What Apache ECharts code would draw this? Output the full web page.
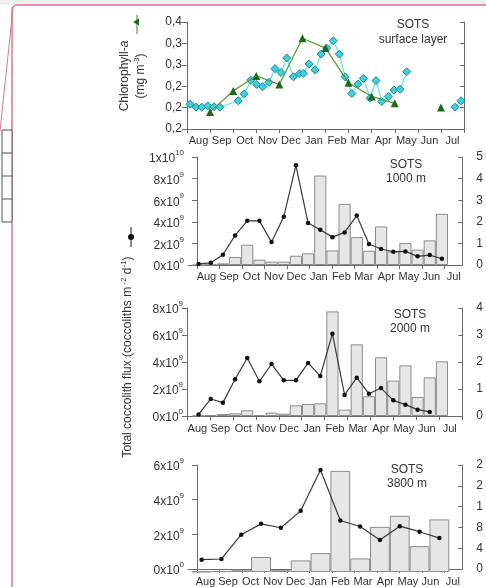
<!DOCTYPE html>
<html><head><meta charset="utf-8">
<script src="https://cdn.jsdelivr.net/npm/echarts@6/dist/echarts.min.js"></script>
<style>html,body{margin:0;padding:0;background:#fff;overflow:hidden}#c{width:486px;height:587px}</style>
</head><body><div id="c"></div>
<script>
// ---------------- DATA ----------------
const months = ["Aug","Sep","Oct","Nov","Dec","Jan","Feb","Mar","Apr","May","Jun","Jul"];

// Panel 1: chlorophyll-a, x in months since 1 Aug
const chlTriMonth = [1.0, 2.0, 3.0, 4.0, 5.0, 6.0, 7.0, 8.0, 9.0, 10.0, 11.0];
const chlTriValue = [0.190, 0.239, 0.274, 0.254, 0.362, 0.339, 0.258, 0.226, 0.210, null, 0.200];
const chlDiaMonth = [0.13,0.39,0.64,0.90,1.17,1.43,2.22,2.48,2.76,3.02,3.28,3.55,3.81,4.07,4.32,4.61,4.87,5.04,5.29,5.55,5.81,6.05,6.34,6.60,6.85,7.14,7.40,7.64,7.93,8.19,8.44,8.72,8.97,9.23,9.52,10.5,11.61,11.87];
const chlDiaValue = [0.208,0.201,0.201,0.204,0.202,0.201,0.216,0.232,0.264,0.254,0.249,0.259,0.291,0.282,0.316,0.272,0.279,0.280,0.302,0.288,0.325,0.339,0.356,0.325,0.272,0.233,0.255,0.268,0.222,0.263,0.214,0.226,0.241,0.243,0.284,null,0.201,0.216];
const chlTickLabels = ["0,2","0,2","0,2","0,3","0,3","0,4"];

// Panels 2-4: trap samples (x1e9 coccoliths m-2 d-1)
const samples21 = ["1","2","3","4","5","6","7","8","9","10","11","12","13","14","15","16","17","18","19","20","21"];
const samples13 = ["1","2","3","4","5","6","7","8","9","10","11","12","13"];

const flux1000Line = [0.10,0.20,0.95,2.74,4.09,4.09,2.12,4.46,9.23,3.88,3.26,2.58,3.02,4.58,1.94,1.48,1.23,1.26,0.80,0.92,0.58];
const flux1000Bar  = [0.00,0.05,0.15,0.74,1.88,0.49,0.31,0.31,0.86,1.08,8.28,1.35,5.66,2.58,1.32,3.57,1.26,2.03,1.42,2.28,4.74];
const flux2000Line = [0.12,1.26,0.99,2.72,4.30,2.57,3.85,2.64,2.64,3.93,2.96,6.10,1.56,2.84,1.65,2.07,1.16,0.84,0.47,0.30,null];
const flux2000Bar  = [0.02,0.07,0.15,0.20,0.42,0.07,0.25,0.17,0.79,0.89,0.94,7.75,0.47,5.31,1.46,4.35,2.62,3.75,1.41,2.86,4.05];
const flux3800Line = [0.69,0.73,2.09,2.70,2.48,3.43,5.72,2.89,2.55,1.79,2.57,2.26,1.90];
const flux3800Bar  = [0.02,0.05,0.13,0.84,0.10,0.65,1.06,5.67,0.76,2.53,3.15,1.45,2.95];

const leftTicks1000 = ["0x10|0","2x10|9","4x10|9","6x10|9","8x10|9","1x10|10"];
const leftTicks2000 = ["0x10|0","2x10|9","4x10|9","6x10|9","8x10|9"];
const leftTicks3800 = ["0x10|0","2x10|9","4x10|9","6x10|9"];
const rightTicks1000 = ["0","1","2","3","4","5"];
const rightTicks2000 = ["0","1","2","3","4"];
const rightTicks3800 = ["0","4","8","1","2","2"];

// ---------------- CHART ----------------
const E9 = 1e9;
const FONT = "'Liberation Sans', Arial, sans-serif";
const TXT = '#333';
const AX = '#6a6a6a';
const W = 486;

function supFmt(arr, step) {
  return function (v) {
    const s = arr[Math.round(v / step)].split('|');
    return '{b|' + s[0] + '}{s|' + s[1] + '}';
  };
}
const supRich = {
  b: { fontSize: 12, fontFamily: FONT, color: TXT, lineHeight: 16, verticalAlign: 'bottom' },
  s: { fontSize: 8, fontFamily: FONT, color: TXT, lineHeight: 16, verticalAlign: 'top', padding: [0, 0, 5, 0] }
};

const P = [
  { top: 22, h: 107, left: 187, rightX: 464 },
  { top: 157, h: 108, left: 188, rightX: 465 },
  { top: 308, h: 108, left: 187, rightX: 465 },
  { top: 465, h: 107, left: 188, rightX: 465 }
];

const grids = P.map(p => ({ left: p.left, width: p.rightX - p.left, top: p.top, height: p.h }));
// hidden sample grids (bars/lines of trap samples)
grids.push({ left: 192.5, width: 255.5, top: P[1].top, height: P[1].h });
grids.push({ left: 192.5, width: 255.5, top: P[2].top, height: P[2].h });
grids.push({ left: 191.7, width: 257.6, top: P[3].top, height: P[3].h });

function monthAxis(gi, min, max, ticks, labOff, margin) {
  const tv = ticks; const lv = [];
  for (let k = 0; k < 12; k++) lv.push(k + labOff);
  return {
    type: 'value', gridIndex: gi, min: min, max: max,
    axisLine: { show: true, lineStyle: { color: AX, width: 1 } },
    axisTick: { show: true, customValues: tv, length: 4, lineStyle: { color: AX } },
    axisLabel: { show: true, customValues: lv, margin: margin, fontSize: 11, fontFamily: FONT, color: TXT,
      formatter: v => months[Math.floor(v + 1e-6)] },
    splitLine: { show: false }
  };
}
const t0_12 = [0,1,2,3,4,5,6,7,8,9,10,11,12];
const t0_11 = [0,1,2,3,4,5,6,7,8,9,10,11];

const xAxes = [
  monthAxis(0, 0, 12, t0_12, 0.5, 6),
  monthAxis(1, -0.40, 11.8, t0_11, 0.42, 6),
  monthAxis(2, 0, 12, t0_12, 0.45, 7),
  monthAxis(3, -0.40, 11.8, t0_11, 0.38, 7),
  { type: 'category', gridIndex: 4, data: samples21, show: false, boundaryGap: true },
  { type: 'category', gridIndex: 5, data: samples21, show: false, boundaryGap: true },
  { type: 'category', gridIndex: 6, data: samples13, show: false, boundaryGap: true }
];

function leftAxis(gi, max, step, fmt) {
  return {
    type: 'value', gridIndex: gi, position: 'left', min: 0, max: max, interval: step,
    axisLine: { show: true, lineStyle: { color: AX } },
    axisTick: { show: true, length: 5, lineStyle: { color: AX } },
    axisLabel: { margin: 4, formatter: fmt, rich: supRich },
    splitLine: { show: false }
  };
}
function rightAxis(gi, max, step, labels) {
  return {
    type: 'value', gridIndex: gi, position: 'right', min: 0, max: max, interval: step,
    axisLine: { show: true, lineStyle: { color: AX } },
    axisTick: { show: true, inside: true, length: 4, lineStyle: { color: AX } },
    axisLabel: { show: !!labels, margin: 14, fontSize: 12, fontFamily: FONT, color: TXT,
      formatter: labels ? (v => labels[Math.round(v / step)]) : undefined },
    splitLine: { show: false }
  };
}
const yAxes = [
  // 0,1 panel 1
  { type: 'value', gridIndex: 0, position: 'left', min: 0.15, max: 0.40, interval: 0.05,
    axisLine: { show: true, lineStyle: { color: AX } },
    axisTick: { show: true, length: 5, lineStyle: { color: AX } },
    axisLabel: { margin: 5, fontSize: 12, fontFamily: FONT, color: TXT,
      formatter: v => chlTickLabels[Math.round((v - 0.15) / 0.05)] },
    splitLine: { show: false } },
  rightAxis(0, 0.40, 0.05, null),
  // 2,3 panel 2
  leftAxis(1, 10 * E9, 2 * E9, supFmt(leftTicks1000, 2 * E9)),
  rightAxis(1, 10 * E9, 2 * E9, rightTicks1000),
  // 4,5 panel 3
  leftAxis(2, 8 * E9, 2 * E9, supFmt(leftTicks2000, 2 * E9)),
  rightAxis(2, 8 * E9, 2 * E9, rightTicks2000),
  // 6,7 panel 4
  leftAxis(3, 6 * E9, 2 * E9, supFmt(leftTicks3800, 2 * E9)),
  rightAxis(3, 6 * E9, 1.2 * E9, rightTicks3800),
  // 8,9,10 hidden sample axes
  { type: 'value', gridIndex: 4, min: 0, max: 10 * E9, show: false, splitLine: { show: false } },
  { type: 'value', gridIndex: 5, min: 0, max: 8 * E9, show: false, splitLine: { show: false } },
  { type: 'value', gridIndex: 6, min: 0, max: 6 * E9, show: false, splitLine: { show: false } }
];
yAxes[1].min = 0.15;

const toE9 = a => a.map(v => v == null ? '-' : v * E9);
const zip = (xs, ys) => xs.map((x, i) => [x, ys[i] == null ? '-' : ys[i]]);

function barSeries(xi, yi, data) {
  return { type: 'bar', xAxisIndex: xi, yAxisIndex: yi, data: toE9(data), barCategoryGap: '0%',
    itemStyle: { color: '#e6e6e6', borderColor: '#8c8c8c', borderWidth: 1 }, z: 2, silent: true };
}
function lineSeries(xi, yi, data) {
  return { type: 'line', xAxisIndex: xi, yAxisIndex: yi, data: toE9(data), symbol: 'circle', symbolSize: 4.5,
    showAllSymbol: true, connectNulls: false,
    itemStyle: { color: '#111' }, lineStyle: { color: '#3a3a3a', width: 1.2 }, z: 4, silent: true };
}

const series = [
  { type: 'line', xAxisIndex: 0, yAxisIndex: 0, data: zip(chlDiaMonth, chlDiaValue), symbol: 'diamond', symbolSize: 8,
    showAllSymbol: true, connectNulls: false,
    itemStyle: { color: '#3fd0dc', borderColor: '#17899a', borderWidth: 1 },
    lineStyle: { color: '#6fe3ea', width: 1.3 }, z: 3, silent: true },
  { type: 'line', xAxisIndex: 0, yAxisIndex: 0, data: zip(chlTriMonth, chlTriValue), symbol: 'triangle', symbolSize: 8,
    showAllSymbol: true, connectNulls: false,
    itemStyle: { color: '#1e6a1c' }, lineStyle: { color: '#5b9e3c', width: 1.3 }, z: 4, silent: true },
  barSeries(4, 8, flux1000Bar), lineSeries(4, 8, flux1000Line),
  barSeries(5, 9, flux2000Bar), lineSeries(5, 9, flux2000Line),
  barSeries(6, 10, flux3800Bar), lineSeries(6, 10, flux3800Line)
];

function label2(x, y1, y2, a, b) {
  return [
    { type: 'text', x: x, y: y1, style: { text: a, font: '12px ' + FONT, fill: TXT, textAlign: 'center', textVerticalAlign: 'middle' } },
    { type: 'text', x: x, y: y2, style: { text: b, font: '12px ' + FONT, fill: TXT, textAlign: 'center', textVerticalAlign: 'middle' } }
  ];
}

const graphic = [
  { type: 'rect', shape: { x: 0, y: 0, width: W, height: 5 }, style: { fill: '#efefef' }, silent: true },
  { type: 'rect', shape: { x: 12, y: 5, width: 490, height: 600, r: 5 }, style: { fill: 'none', stroke: '#d8798d', lineWidth: 1.5 }, silent: true },
  { type: 'line', shape: { x1: 13, y1: 8, x2: 0, y2: 131 }, style: { stroke: '#d8798d', lineWidth: 1 }, silent: true },
  { type: 'rect', shape: { x: 2, y: 130, width: 10, height: 92 }, style: { fill: '#fff', stroke: '#555', lineWidth: 1 }, silent: true },
  { type: 'line', shape: { x1: 2, y1: 153, x2: 12, y2: 153 }, style: { stroke: '#555' }, silent: true },
  { type: 'line', shape: { x1: 2, y1: 176, x2: 12, y2: 176 }, style: { stroke: '#555' }, silent: true },
  { type: 'line', shape: { x1: 2, y1: 199, x2: 12, y2: 199 }, style: { stroke: '#555' }, silent: true },
  // series key glyphs next to axis titles
  { type: 'line', shape: { x1: 137, y1: 15, x2: 137, y2: 34 }, style: { stroke: '#5b9e3c', lineWidth: 1.2 }, silent: true },
  { type: 'polygon', shape: { points: [[133, 22], [139, 18.5], [139, 25.5]] }, style: { fill: '#1e6a1c' }, silent: true },
  { type: 'line', shape: { x1: 131, y1: 227, x2: 131, y2: 247 }, style: { stroke: '#3a3a3a', lineWidth: 1.2 }, silent: true },
  { type: 'circle', shape: { cx: 131, cy: 237, r: 3 }, style: { fill: '#111' }, silent: true },
  // axis titles
  { type: 'text', x: 125, y: 76, rotation: Math.PI / 2,
    style: { text: '{n|Chlorophyll-}{i|a}', textAlign: 'center', textVerticalAlign: 'middle',
      rich: { n: { font: '12px ' + FONT, fill: TXT }, i: { font: 'italic 12px ' + FONT, fill: TXT } } }, silent: true },
  { type: 'text', x: 140, y: 76, rotation: Math.PI / 2,
    style: { text: '{n|(mg m}{s|-3}{n|)}', textAlign: 'center', textVerticalAlign: 'middle',
      rich: { n: { font: '12px ' + FONT, fill: TXT, lineHeight: 14, verticalAlign: 'bottom' }, s: { font: '8px ' + FONT, fill: TXT, lineHeight: 14, verticalAlign: 'top' } } }, silent: true },
  { type: 'text', x: 127, y: 357, rotation: Math.PI / 2,
    style: { text: '{n|Total coccolith flux (coccoliths m}{s| -2}{n| d}{s|-1}{n|)}', textAlign: 'center', textVerticalAlign: 'middle',
      rich: { n: { font: '12px ' + FONT, fill: TXT, lineHeight: 14, verticalAlign: 'bottom' }, s: { font: '8px ' + FONT, fill: TXT, lineHeight: 14, verticalAlign: 'top' } } }, silent: true }
]
.concat(label2(413, 25, 40, 'SOTS', 'surface layer'))
.concat(label2(406, 165, 179, 'SOTS', '1000 m'))
.concat(label2(410, 315, 329, 'SOTS', '2000 m'))
.concat(label2(407, 470, 484, 'SOTS', '3800 m'));

const chart = echarts.init(document.getElementById('c'), null, { renderer: 'canvas', width: 486, height: 587 });
chart.setOption({
  animation: false,
  backgroundColor: '#ffffff',
  grid: grids,
  xAxis: xAxes,
  yAxis: yAxes,
  series: series,
  graphic: graphic
});
</script></body></html>
